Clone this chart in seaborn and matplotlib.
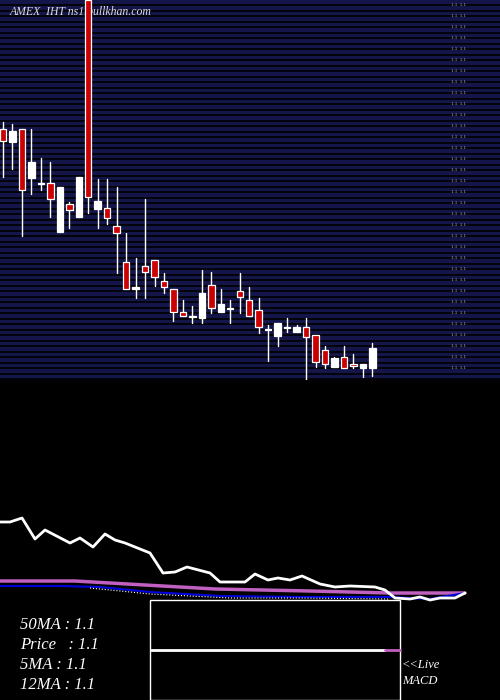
import numpy as np
import pandas as pd
import matplotlib
matplotlib.use("Agg")
import matplotlib.pyplot as plt
import seaborn as sns

# candle values (chart units, larger = lower on screen)
opens  = [129,142,129,178,183,183,232,204,217,0,209,208,226,262,289,266,260,281,289,312,316,318,285,312,308,291,300,310,329,336,327,332,327,335,350,367,357,364,368,368]
closes = [141,131,190,162,183,199,187,210,177,197,201,218,233,289,287,272,277,287,312,316,316,293,308,304,308,297,316,327,329,323,327,327,337,362,364,358,368,366,364,348]
highs  = [122,124,129,129,158,162,187,202,177,0,179,179,187,233,258,199,260,273,289,300,306,270,272,289,300,273,287,298,325,323,318,325,318,335,346,357,346,354,364,343]
lows   = [177,169,236,194,190,217,232,228,217,213,228,224,273,289,298,298,286,293,321,316,323,323,313,312,323,313,316,333,361,346,332,332,380,367,368,367,368,368,377,376]

price_x = [0,10,22,35,45,70,80,93,105,115,125,150,163,175,187,210,220,245,255,268,278,290,302,320,335,350,375,385,395,410,420,430,440,455,465]
price_y = [522,522,518,539,530,543,538,547,534,540,543,553,573,572,567,573,582,582,574,580,578,580,576,584,587,586,587,590,598,599,597,600,598,598,593]
ma50_x = [0,75,110,145,215,310,390,465]
ma50_y = [581,581,583,585,589,591,593,593]
ma12_x = [0,60,100,150,220,300,390,430,465]
ma12_y = [586,586,587,592,596,597,597,599,593]
ma5_x = [90,150,230,300,390]
ma5_y = [588,594,598,598,599]
labels = ["50MA : 1.1", "Price   : 1.1", "5MA : 1.1", "12MA : 1.1"]

sns.set_style("dark")
plt.rcParams['font.family'] = ['Liberation Serif', 'DejaVu Serif']
fig = plt.figure(figsize=(5, 7), dpi=100, facecolor='black')

ax = fig.add_axes([0, 320/700, 1, 380/700])
ax.set_facecolor('#14164a')
for g in np.arange(5, 380, 5.5):
    ax.axhline(g, color='black', lw=1.2, zorder=1)
ax.set_xlim(-3/9.47, 497/9.47)
ax.set_ylim(380, 0)
tx = lambda px: (px - 3) / 9.47
for i, (o, c, h, l) in enumerate(zip(opens, closes, highs, lows)):
    ax.plot([i, i], [h, l], color='white', lw=1, zorder=2)
    red = c > o
    bot, top = max(o, c), min(o, c)
    ht = max(bot - top, 1.2)
    ax.bar(i, ht, bottom=top, width=0.68, color='#cc0000' if red else 'white',
           edgecolor='white', linewidth=0.9, zorder=3)
ax.text(tx(10), 12, "AMEX  IHT ns1.bullkhan.com", color='#dddddd', style='italic',
        fontsize=8.5, va='center', zorder=2.5)
for g in np.arange(5, 372, 11):
    ax.text(tx(451), g, "1.1  1.1", color='#bbbbbb', fontsize=3.5, va='center')
ax.set_xticks([]); ax.set_yticks([])
for s in ax.spines.values():
    s.set_visible(False)

bx = fig.add_axes([0, 0, 1, 320/700])
bx.set_facecolor('black')
bx.set_xlim(0, 500); bx.set_ylim(700, 380)
sns.lineplot(x=ma50_x, y=ma50_y, ax=bx, color='#c060c0', lw=2.5)
sns.lineplot(x=ma12_x, y=ma12_y, ax=bx, color='#0000dd', lw=1.5)
sns.lineplot(x=ma5_x, y=ma5_y, ax=bx, color='white', lw=0.8, linestyle=':')
sns.lineplot(x=price_x, y=price_y, ax=bx, color='white', lw=2)
bx.add_patch(plt.Rectangle((150, 600), 250, 100, fill=False, ec='white', lw=1))
bx.plot([151, 385], [650, 650], color='white', lw=2)
bx.plot([385, 400], [650, 650], color='#c060c0', lw=2)
for k, t in enumerate(labels):
    bx.text(20, 625 + 20 * k, t, color='white', style='italic', fontsize=12, va='center')
bx.text(402, 665, "<<Live", color='white', style='italic', fontsize=9, va='center')
bx.text(402, 681, "MACD", color='white', style='italic', fontsize=9, va='center')
bx.set_xticks([]); bx.set_yticks([])
bx.set_xlabel(''); bx.set_ylabel('')
for s in bx.spines.values():
    s.set_visible(False)

fig.savefig("out.png", dpi=100, facecolor='black')
